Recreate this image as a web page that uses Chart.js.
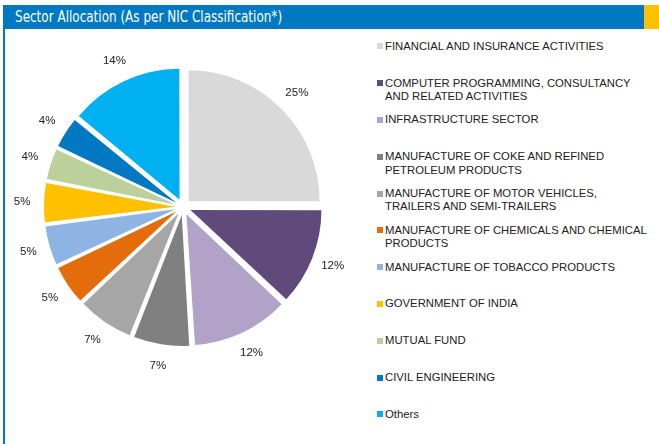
<!DOCTYPE html>
<html>
<head>
<meta charset="utf-8">
<script src="https://cdn.jsdelivr.net/npm/chart.js@4.4.1/dist/chart.umd.min.js"></script>
<style>
  html, body { margin: 0; padding: 0; background: #fff; }
  #wrap { position: relative; width: 659px; height: 444px; overflow: hidden; }
  .bar { position: absolute; left: 3px; top: 5px; width: 641px; height: 24px; background: #0079c2; }
  .tab { position: absolute; left: 644px; top: 5px; width: 15px; height: 24px; background: #ffc000; }
  .edge { position: absolute; left: 3px; top: 29px; width: 2px; height: 415px; background: #0079c2; }
  .title { position: absolute; left: 15px; top: 5px; height: 24px; line-height: 24px; color: #fff;
           font-family: "DejaVu Sans Condensed", "Liberation Sans Narrow", sans-serif; font-size: 15px;
           white-space: nowrap; transform-origin: 0 50%; }
  #pie { position: absolute; left: 0; top: 30px; }
  #legend { position: absolute; left: 377px; top: 0; width: 282px; height: 444px;
            font-family: "Liberation Sans", Arial, sans-serif; font-size: 11.3px; color: #222; }
  .item { position: absolute; left: 0; line-height: 13.4px; }
  .item i { position: absolute; left: 0; top: 3.5px; width: 6px; height: 6px; }
  .item span { display: block; margin-left: 8px; white-space: nowrap; }
</style>
</head>
<body>
<div id="wrap">
  <div class="bar"></div>
  <div class="tab"></div>
  <div class="edge"></div>
  <div class="title" id="title">Sector Allocation (As per NIC Classification*)</div>
  <canvas id="pie" width="360" height="370"></canvas>
  <div id="legend"></div>
</div>
<script>
var sectors = [
  ['FINANCIAL AND INSURANCE ACTIVITIES'],
  ['COMPUTER PROGRAMMING, CONSULTANCY', 'AND RELATED ACTIVITIES'],
  ['INFRASTRUCTURE SECTOR'],
  ['MANUFACTURE OF COKE AND REFINED', 'PETROLEUM PRODUCTS'],
  ['MANUFACTURE OF MOTOR VEHICLES,', 'TRAILERS AND SEMI-TRAILERS'],
  ['MANUFACTURE OF CHEMICALS AND CHEMICAL', 'PRODUCTS'],
  ['MANUFACTURE OF TOBACCO PRODUCTS'],
  ['GOVERNMENT OF INDIA'],
  ['MUTUAL FUND'],
  ['CIVIL ENGINEERING'],
  ['Others']
];
var shares = [25, 12, 12, 7, 7, 5, 5, 5, 4, 4, 14];
var sliceColors = ['#d9d9d9', '#604a7b', '#b3a2c7', '#808080', '#a6a6a6', '#e46c0a',
                   '#8eb4e3', '#ffc000', '#bbd09a', '#0079c2', '#00b0f0'];

// squeeze the heading into its condensed width
var title = document.getElementById('title');
title.style.transform = 'scaleX(' + (267 / title.offsetWidth) + ')';

// Chart.js grows narrow slices when offset is set; keep every slice the same radius
var evenExplode = {
  id: 'evenExplode',
  beforeDatasetsDraw: function(chart) {
    var meta = chart.getDatasetMeta(0);
    var base = meta.controller.outerRadius;
    meta.data.forEach(function(arc) {
      var push = (arc.options.offset || 0) / 4;
      var fix = 1 - Math.sin(Math.min(Math.PI, arc.circumference));
      arc.outerRadius = base - push * fix;
    });
  }
};

// percent labels just outside each exploded slice
var outsideLabels = {
  id: 'outsideLabels',
  afterDatasetsDraw: function(chart) {
    var ctx = chart.ctx;
    var meta = chart.getDatasetMeta(0);
    ctx.save();
    ctx.font = '11.5px "Liberation Sans", Arial, sans-serif';
    ctx.fillStyle = '#222';
    ctx.textAlign = 'center';
    ctx.textBaseline = 'middle';
    meta.data.forEach(function(arc, i) {
      var mid = (arc.startAngle + arc.endAngle) / 2;
      var r = 161;
      ctx.fillText(shares[i] + '%', arc.x + Math.cos(mid) * r, arc.y + Math.sin(mid) * r);
    });
    ctx.restore();
  }
};

new Chart(document.getElementById('pie').getContext('2d'), {
  type: 'pie',
  data: {
    labels: sectors,
    datasets: [{
      data: shares,
      backgroundColor: sliceColors,
      borderWidth: 0,
      hoverBorderWidth: 0,
      offset: 32,
      hoverOffset: 0
    }]
  },
  options: {
    responsive: false,
    animation: false,
    layout: { padding: { left: 36, right: 30, top: 30, bottom: 46 } },
    plugins: {
      legend: { display: false },
      tooltip: { enabled: false }
    }
  },
  plugins: [evenExplode, outsideLabels]
});

// legend column on the right
var legend = document.getElementById('legend');
sectors.forEach(function(lines, i) {
  var item = document.createElement('div');
  item.className = 'item';
  item.style.top = (46.5 + i * 36.8 - 6.7) + 'px';
  var box = document.createElement('i');
  box.style.background = sliceColors[i];
  item.appendChild(box);
  lines.forEach(function(t) {
    var s = document.createElement('span');
    s.textContent = t;
    item.appendChild(s);
  });
  legend.appendChild(item);
});
</script>
</body>
</html>
